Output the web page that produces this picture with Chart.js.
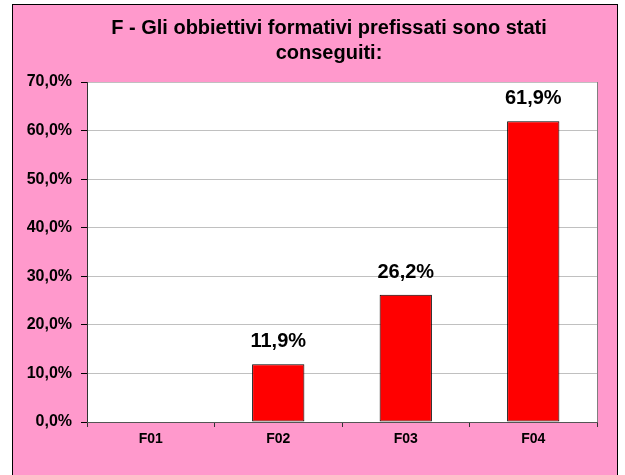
<!DOCTYPE html>
<html>
<head>
<meta charset="utf-8">
<script src="https://cdn.jsdelivr.net/npm/chart.js@4/dist/chart.umd.min.js"></script>
<style>
  html, body { margin: 0; padding: 0; background: #ffffff; }
  canvas { display: block; }
</style>
</head>
<body>
<canvas id="c" width="625" height="475"></canvas>
<script>
const categories = ['F01', 'F02', 'F03', 'F04'];
const values = [0, 11.9, 26.2, 61.9];
const titleLines = ['F - Gli obbiettivi formativi prefissati sono stati', 'conseguiti:'];

const FONT = "'Liberation Sans', Arial, Helvetica, sans-serif";
const fmt = v => v.toFixed(1).replace('.', ',') + '%';

const frame = {
  id: 'frame',
  beforeDraw(chart) {
    const ctx = chart.ctx;
    const a = chart.chartArea;
    ctx.save();
    ctx.fillStyle = '#ffffff';
    ctx.fillRect(0, 0, chart.width, chart.height);
    ctx.fillStyle = '#FF99CC';
    ctx.fillRect(12, 4, 606, 480);
    ctx.strokeStyle = '#000000';
    ctx.lineWidth = 1;
    ctx.strokeRect(12.5, 4.5, 605, 480);
    ctx.fillStyle = '#ffffff';
    ctx.fillRect(a.left, a.top, a.right - a.left, a.bottom - a.top);
    ctx.strokeStyle = '#808080';
    ctx.strokeRect(Math.round(a.left) + 0.5, Math.round(a.top) + 0.5, Math.round(a.right - a.left), Math.round(a.bottom - a.top));
    // title
    ctx.font = 'bold 20px ' + FONT;
    ctx.fillStyle = '#000000';
    ctx.textAlign = 'center';
    ctx.textBaseline = 'alphabetic';
    titleLines.forEach((t, i) => ctx.fillText(t, 329, 34 + i * 25));
    ctx.restore();
  }
};

const barLabels = {
  id: 'barLabels',
  afterDatasetsDraw(chart) {
    const ctx = chart.ctx;
    const meta = chart.getDatasetMeta(0);
    ctx.save();
    ctx.font = 'bold 20px ' + FONT;
    ctx.fillStyle = '#000000';
    ctx.textAlign = 'center';
    ctx.textBaseline = 'alphabetic';
    meta.data.forEach((bar, i) => {
      const v = chart.data.datasets[0].data[i];
      if (v > 0) ctx.fillText(fmt(v), bar.x, bar.y - 17);
    });
    ctx.restore();
  }
};

new Chart(document.getElementById('c'), {
  type: 'bar',
  data: {
    labels: categories,
    datasets: [{
      data: values,
      backgroundColor: '#FF0000',
      borderColor: '#000000',
      borderWidth: ctx => (ctx.raw > 0 ? 1 : 0),
      borderSkipped: false,
      barPercentage: 0.41,
      categoryPercentage: 1
    }]
  },
  options: {
    responsive: false,
    devicePixelRatio: 1,
    animation: false,
    events: [],
    layout: { padding: { left: 12, right: 28, top: 82, bottom: 23 } },
    plugins: {
      legend: { display: false },
      tooltip: { enabled: false },
      title: { display: false }
    },
    scales: {
      y: {
        min: 0,
        max: 70,
        afterFit: s => { s.width = 75; },
        ticks: {
          stepSize: 10,
          color: '#000000',
          padding: 9,
          font: { family: FONT, size: 16, weight: 'bold' },
          callback: v => fmt(v)
        },
        grid: { color: '#c0c0c0', tickColor: '#000000', tickLength: 6, lineWidth: 1 },
        border: { color: '#333333', width: 1 }
      },
      x: {
        afterFit: s => { s.height = 30; },
        ticks: {
          color: '#000000',
          padding: 4,
          font: { family: FONT, size: 14, weight: 'bold' }
        },
        grid: { offset: true, drawOnChartArea: false, tickColor: '#333333', tickLength: 5 },
        border: { color: '#555555', width: 1 }
      }
    }
  },
  plugins: [frame, barLabels]
});
</script>
</body>
</html>
